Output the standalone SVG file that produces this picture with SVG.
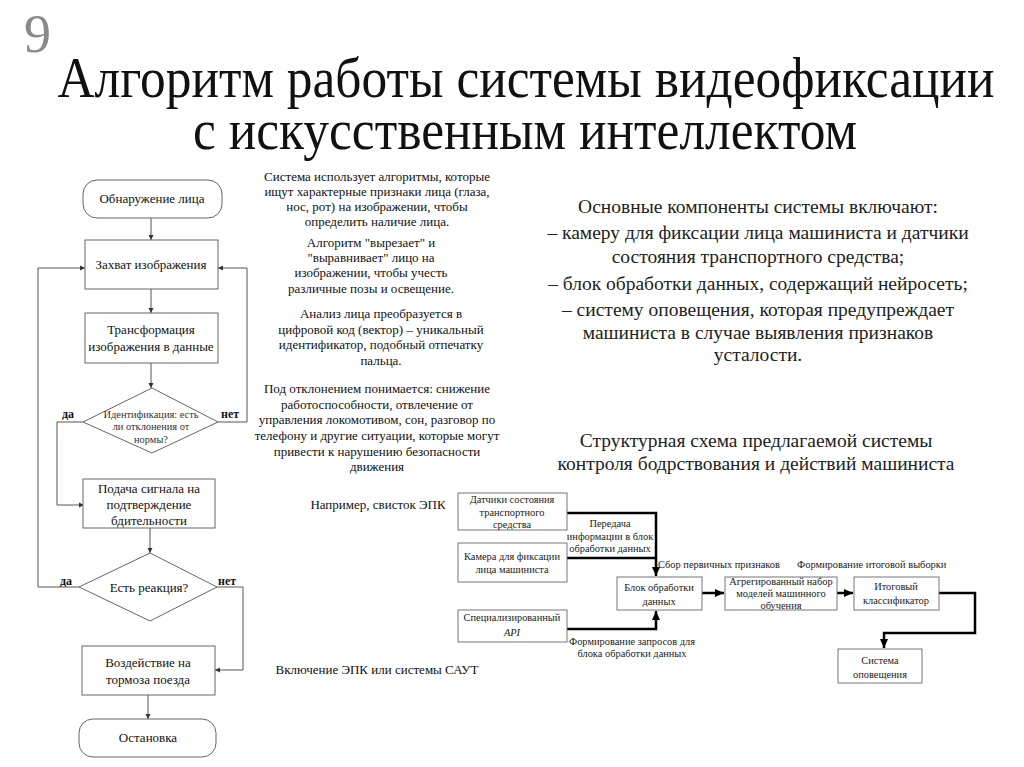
<svg xmlns="http://www.w3.org/2000/svg" width="1024" height="767" viewBox="0 0 1024 767">
<defs>
<marker id="ah" markerUnits="userSpaceOnUse" markerWidth="6" markerHeight="6" refX="5" refY="3" orient="auto"><path d="M0,0.5 L5,3 L0,5.5 Z" fill="#333"/></marker>
<marker id="ahb" markerUnits="userSpaceOnUse" markerWidth="10" markerHeight="10" refX="9" refY="5" orient="auto"><path d="M0,1 L9,5 L0,9 Z" fill="#000"/></marker>
<style>
text{font-family:"Liberation Serif","Times New Roman",serif;fill:#111}
.t{font-size:13px;text-anchor:middle}
.fb{font-size:13px;text-anchor:middle}
.dm{font-size:10.4px;text-anchor:middle;fill:#333}
.sm{font-size:10.4px;text-anchor:middle;fill:#222}
.r{font-size:19.5px;text-anchor:middle;fill:#222}
.box{fill:#fff;stroke:#666;stroke-width:1}
.sbox{fill:#fff;stroke:#777;stroke-width:1}
.ln{fill:none;stroke:#555;stroke-width:1}
.th{fill:none;stroke:#000;stroke-width:2.5}
.yn{font-size:12px;font-weight:bold}
</style>
</defs>
<rect width="1024" height="767" fill="#fff"/>
<text x="24" y="52" style="font-size:54px;fill:#8a8a8a">9</text>
<text x="526" y="97" style="font-size:57px;text-anchor:middle" textLength="937" lengthAdjust="spacingAndGlyphs">Алгоритм работы системы видеофиксации</text>
<text x="525" y="149" style="font-size:57px;text-anchor:middle" textLength="664" lengthAdjust="spacingAndGlyphs">с искусственным интеллектом</text>

<g id="connectors">
<path class="ln" d="M151,218 V240" marker-end="url(#ah)"/>
<path class="ln" d="M151,289 V313" marker-end="url(#ah)"/>
<path class="ln" d="M151,363 V388" marker-end="url(#ah)"/>
<path class="ln" d="M218,422 H247 V268 H218" marker-end="url(#ah)"/>
<path class="ln" d="M83,422 H57 V505 H84" marker-end="url(#ah)"/>
<path class="ln" d="M150,528 V553" marker-end="url(#ah)"/>
<path class="ln" d="M79,587 H38 V268 H85" marker-end="url(#ah)"/>
<path class="ln" d="M217,587 H243 V670 H215" marker-end="url(#ah)"/>
<path class="ln" d="M148,695 V719" marker-end="url(#ah)"/>
<path class="th" d="M567,513 H656 V576" marker-end="url(#ahb)"/>
<path class="th" d="M567,558 H656"/>
<path class="th" d="M567,629 H656 V611" marker-end="url(#ahb)"/>
<path class="th" d="M702,593 H724" marker-end="url(#ahb)"/>
<path class="th" d="M837,593 H853" marker-end="url(#ahb)"/>
<path class="th" d="M939,593 H975 V633 H884 V648" marker-end="url(#ahb)"/>
</g>

<g id="n-start"><rect class="box" x="83" y="180" width="139" height="38" rx="14"/><text class="t" x="152" y="203">Обнаружение лица</text></g>
<g id="n-capture"><rect class="box" x="85" y="240" width="133" height="49"/><text class="t" x="151" y="269">Захват изображения</text></g>
<g id="n-transform"><rect class="box" x="85" y="313" width="133" height="50"/><text class="fb" x="151" y="334">Трансформация</text><text class="fb" x="151" y="351">изображения в данные</text></g>
<g id="n-ident"><polygon class="box" points="152,388 218,422 152,453 83,422"/><text class="dm" x="151" y="418">Идентификация: есть</text><text class="dm" x="151" y="430">ли отклонения от</text><text class="dm" x="151" y="443">нормы?</text></g>
<text class="yn" x="62" y="418">да</text>
<text class="yn" x="221" y="418">нет</text>
<g id="n-signal"><rect class="box" x="83" y="479" width="132" height="49"/><text class="fb" x="149" y="493">Подача сигнала на</text><text class="fb" x="149" y="509">подтверждение</text><text class="fb" x="149" y="525">бдительности</text></g>
<g id="n-react"><polygon class="box" points="150,553 217,587 150,621 79,587"/><text class="fb" x="149" y="592">Есть реакция?</text></g>
<text class="yn" x="60" y="585">да</text>
<text class="yn" x="218" y="585">нет</text>
<g id="n-brake"><rect class="box" x="82" y="646" width="133" height="49"/><text class="fb" x="148" y="667">Воздействие на</text><text class="fb" x="148" y="684">тормоза поезда</text></g>
<g id="n-stop"><rect class="box" x="79" y="719" width="137" height="38" rx="14"/><text class="fb" x="148" y="742">Остановка</text></g>

<g id="notes">
<text class="t" x="377" y="181">Система использует алгоритмы, которые</text>
<text class="t" x="377" y="196">ищут характерные признаки лица (глаза,</text>
<text class="t" x="377" y="211">нос, рот) на изображении, чтобы</text>
<text class="t" x="377" y="226">определить наличие лица.</text>
<text class="t" x="371" y="247">Алгоритм "вырезает" и</text>
<text class="t" x="371" y="262">"выравнивает" лицо на</text>
<text class="t" x="371" y="277">изображении, чтобы учесть</text>
<text class="t" x="371" y="293">различные позы и освещение.</text>
<text class="t" x="381" y="318">Анализ лица преобразуется в</text>
<text class="t" x="381" y="334">цифровой код (вектор) – уникальный</text>
<text class="t" x="381" y="349">идентификатор, подобный отпечатку</text>
<text class="t" x="381" y="365">пальца.</text>
<text class="t" x="377" y="393">Под отклонением понимается: снижение</text>
<text class="t" x="377" y="409">работоспособности, отвлечение от</text>
<text class="t" x="377" y="424">управления локомотивом, сон, разговор по</text>
<text class="t" x="377" y="440">телефону и другие ситуации, которые могут</text>
<text class="t" x="377" y="456">привести к нарушению безопасности</text>
<text class="t" x="377" y="471">движения</text>
<text class="t" x="378" y="509">Например, свисток ЭПК</text>
<text class="t" x="377" y="674">Включение ЭПК или системы САУТ</text>
</g>

<g id="components">
<text class="r" x="758" y="213">Основные компоненты системы включают:</text>
<text class="r" x="758" y="239">– камеру для фиксации лица машиниста и датчики</text>
<text class="r" x="758" y="263">состояния транспортного средства;</text>
<text class="r" x="758" y="290">– блок обработки данных, содержащий нейросеть;</text>
<text class="r" x="758" y="316">– систему оповещения, которая предупреждает</text>
<text class="r" x="758" y="339">машиниста в случае выявления признаков</text>
<text class="r" x="758" y="361">усталости.</text>
<text class="r" x="756" y="447">Структурная схема предлагаемой системы</text>
<text class="r" x="756" y="470">контроля бодрствования и действий машиниста</text>
</g>

<g id="s-sensors"><rect class="sbox" x="458" y="493" width="109" height="37"/><text class="sm" x="512" y="503">Датчики состояния</text><text class="sm" x="512" y="516">транспортного</text><text class="sm" x="512" y="528">средства</text></g>
<g id="s-camera"><rect class="sbox" x="458" y="543" width="109" height="39"/><text class="sm" x="512" y="560">Камера для фиксации</text><text class="sm" x="512" y="573">лица машиниста</text></g>
<g id="s-api"><rect class="sbox" x="458" y="610" width="109" height="32"/><text class="sm" x="512" y="621">Специализированный</text><text class="sm" x="512" y="636" font-style="italic">API</text></g>
<g id="s-proc"><rect class="sbox" x="617" y="577" width="85" height="33"/><text class="sm" x="659" y="591">Блок обработки</text><text class="sm" x="659" y="605">данных</text></g>
<g id="s-ensemble"><rect class="sbox" x="725" y="577" width="112" height="33"/><text class="sm" x="781" y="585">Агрегированный набор</text><text class="sm" x="781" y="597">моделей машинного</text><text class="sm" x="781" y="609">обучения</text></g>
<g id="s-classifier"><rect class="sbox" x="854" y="577" width="85" height="33"/><text class="sm" x="896" y="590">Итоговый</text><text class="sm" x="896" y="604">классификатор</text></g>
<g id="s-alert"><rect class="sbox" x="838" y="649" width="84" height="34"/><text class="sm" x="880" y="664">Система</text><text class="sm" x="880" y="678">оповещения</text></g>

<g id="s-labels">
<text class="sm" x="610" y="527">Передача</text>
<text class="sm" x="610" y="540">информации в блок</text>
<text class="sm" x="610" y="552">обработки данных</text>
<text class="sm" x="658" y="568" style="text-anchor:start">Сбор первичных признаков</text>
<text class="sm" x="797" y="568" style="text-anchor:start">Формирование итоговой выборки</text>
<text class="sm" x="632" y="645">Формирование запросов для</text>
<text class="sm" x="632" y="657">блока обработки данных</text>
</g>
</svg>
